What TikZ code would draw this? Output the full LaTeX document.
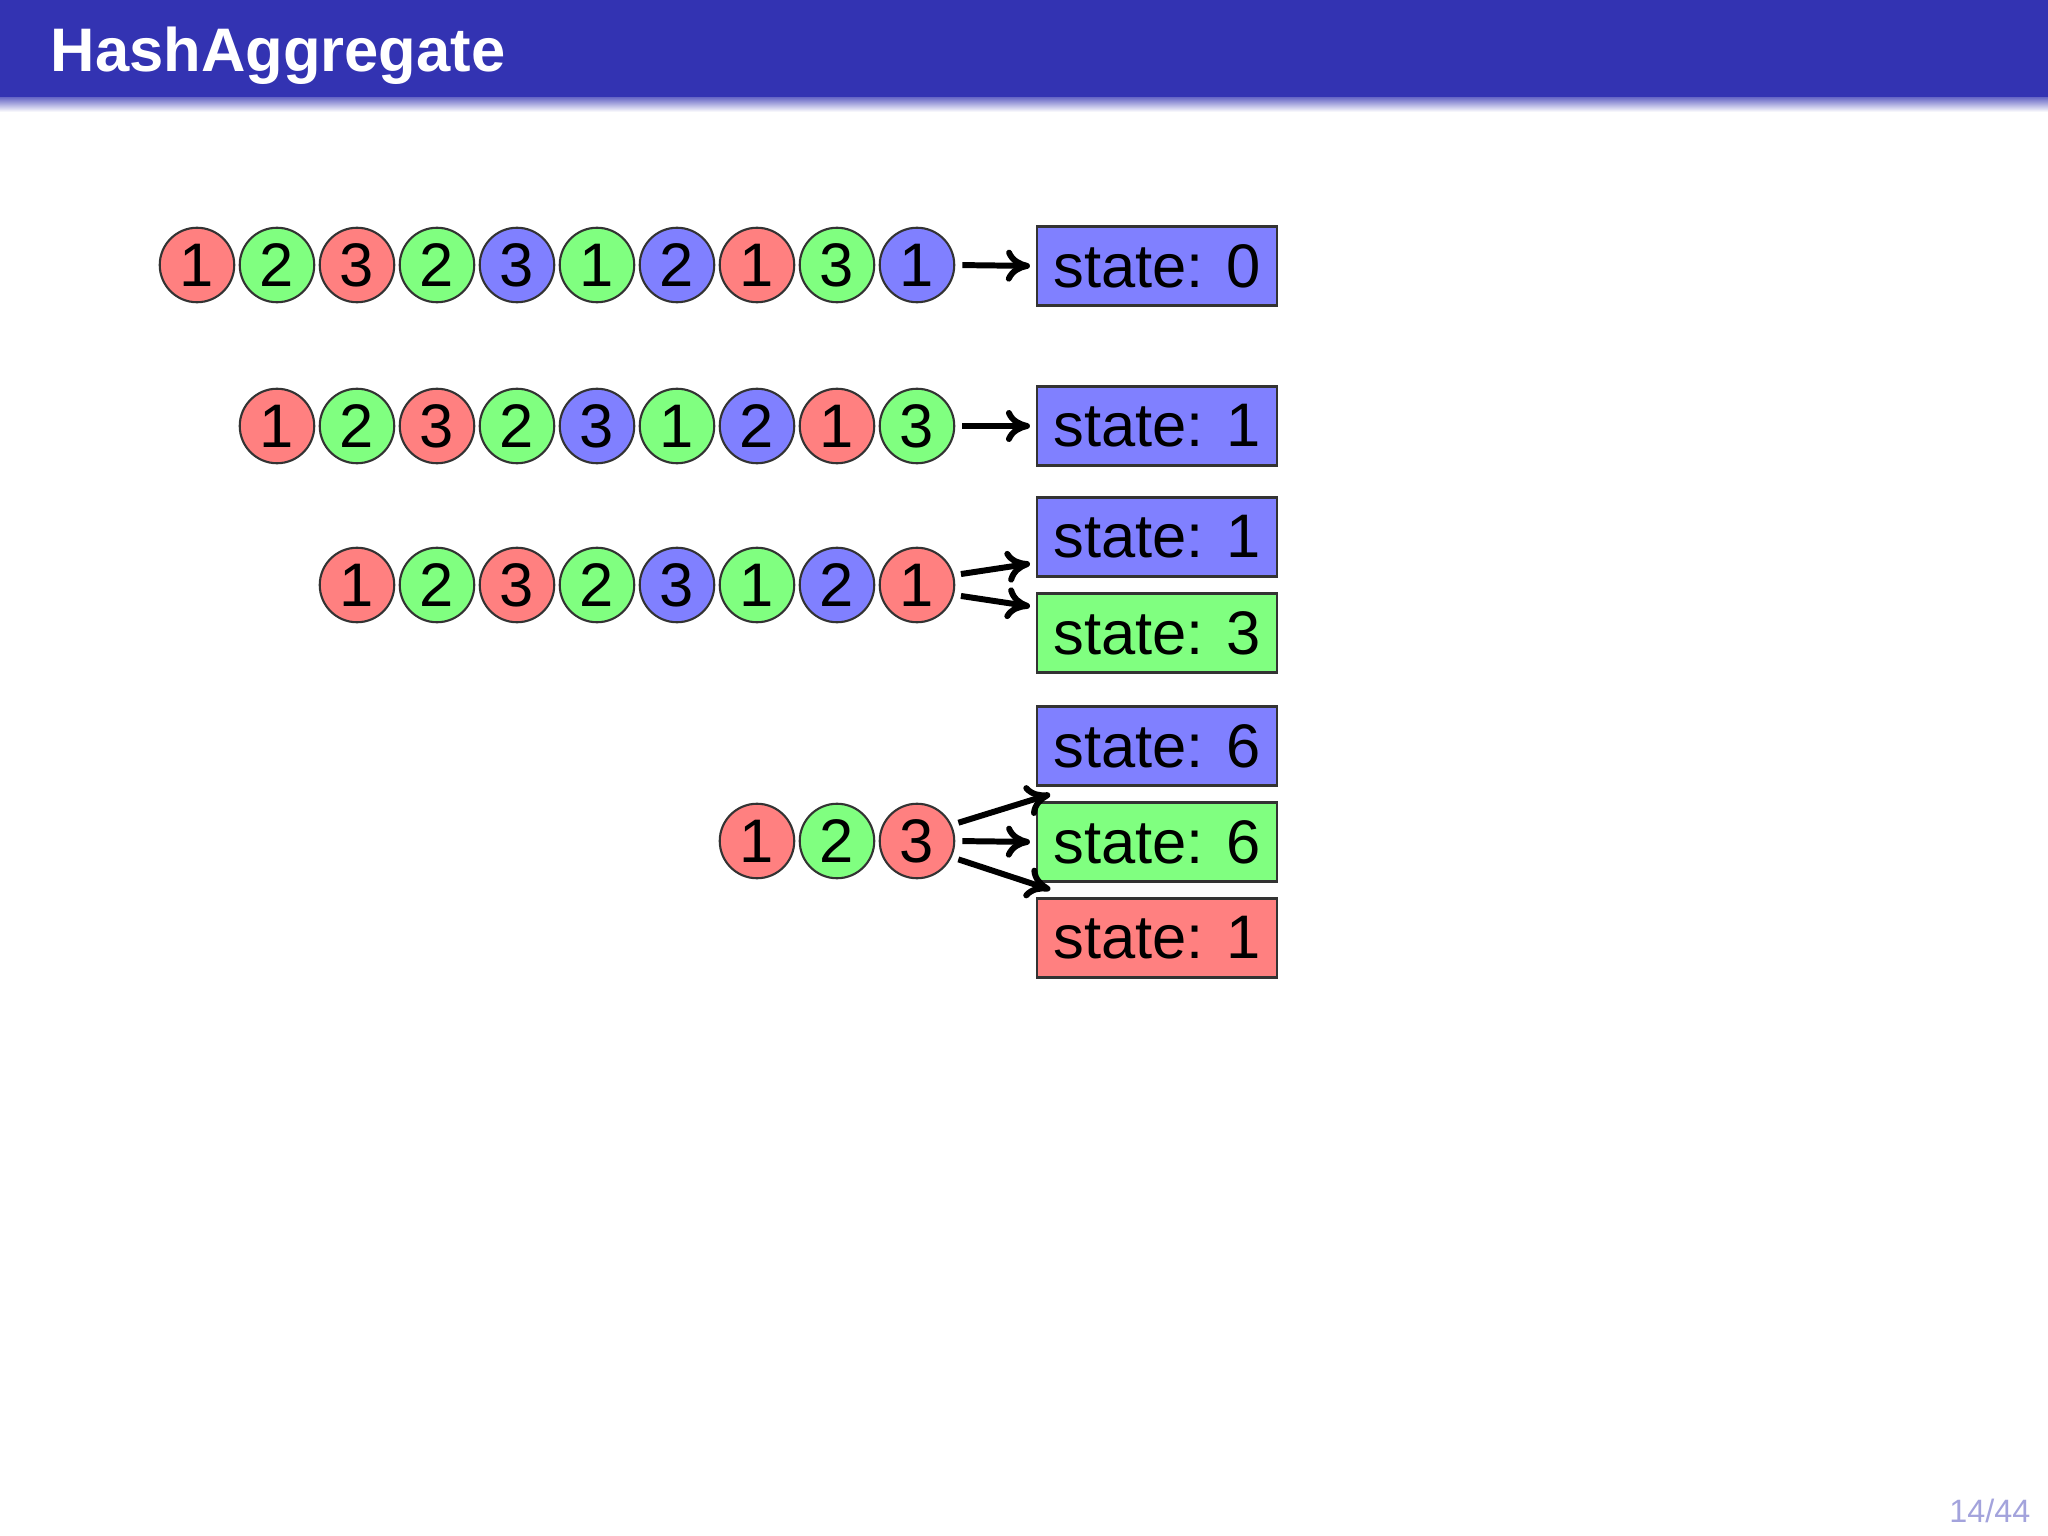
\documentclass[tikz,border=0pt]{standalone}
\usepackage{fontspec}
\setmainfont{Liberation Sans}
\usepackage{tikz}
\usetikzlibrary{positioning,arrows.meta,calc}
\definecolor{hashTitle}{HTML}{3333B2}
\definecolor{hashRed}{HTML}{FF8080}
\definecolor{hashGreen}{HTML}{80FF80}
\definecolor{hashBlue}{HTML}{8080FF}
\definecolor{hashPage}{HTML}{A3A3DC}

\begin{document}
\begin{tikzpicture}[
    ball/.style={circle, draw=black!80, line width=0.6pt, minimum size=0.745cm, inner sep=0pt, font=\fontsize{17.5}{20}\selectfont},
    rball/.style={ball, fill=hashRed},
    gball/.style={ball, fill=hashGreen},
    bball/.style={ball, fill=hashBlue},
    statebox/.style={draw=black!80, line width=0.6pt, minimum width=2.4cm, minimum height=0.79cm, inner sep=0pt, font=\fontsize{17.5}{20}\selectfont},
    arr/.style={-{To[length=0.24cm, width=0.32cm]}, line width=1.7pt, shorten <=0.07cm, shorten >=0.06cm}
]
\useasboundingbox (0,0) rectangle (20.48,-15.36);

% ===== TITLE BAR =====
\fill[hashTitle] (0,0) rectangle (20.48,-0.98);
\shade[top color=hashTitle!70, bottom color=white] (0,-0.98) rectangle (20.48,-1.12);
\node[anchor=base west, inner sep=0pt, text=white, font=\fontsize{17.5}{20}\selectfont\bfseries] (title) at (0.50,-0.72) {HashAggregate};

% ===== ROW 1 (10 tuples) =====
\node[rball] (r1c1) at (1.97,-2.65) {1}; \node[gball] (r1c2) at (2.77,-2.65) {2};
\node[rball] (r1c3) at (3.57,-2.65) {3}; \node[gball] (r1c4) at (4.37,-2.65) {2};
\node[bball] (r1c5) at (5.17,-2.65) {3}; \node[gball] (r1c6) at (5.97,-2.65) {1};
\node[bball] (r1c7) at (6.77,-2.65) {2}; \node[rball] (r1c8) at (7.57,-2.65) {1};
\node[gball] (r1c9) at (8.37,-2.65) {3}; \node[bball] (r1c10) at (9.17,-2.65) {1};
\node[statebox, fill=hashBlue] (s0) at (11.57,-2.66) {state: 0};
\draw[arr] (r1c10.east) -- (s0.west);

% ===== ROW 2 (9 tuples) =====
\node[rball] (r2c1) at (2.77,-4.26) {1}; \node[gball] (r2c2) at (3.57,-4.26) {2};
\node[rball] (r2c3) at (4.37,-4.26) {3}; \node[gball] (r2c4) at (5.17,-4.26) {2};
\node[bball] (r2c5) at (5.97,-4.26) {3}; \node[gball] (r2c6) at (6.77,-4.26) {1};
\node[bball] (r2c7) at (7.57,-4.26) {2}; \node[rball] (r2c8) at (8.37,-4.26) {1};
\node[gball] (r2c9) at (9.17,-4.26) {3};
\node[statebox, fill=hashBlue] (s1) at (11.57,-4.26) {state: 1};
\draw[arr] (r2c9.east) -- (s1.west);

% ===== ROW 3 (8 tuples) =====
\node[rball] (r3c1) at (3.57,-5.85) {1}; \node[gball] (r3c2) at (4.37,-5.85) {2};
\node[rball] (r3c3) at (5.17,-5.85) {3}; \node[gball] (r3c4) at (5.97,-5.85) {2};
\node[bball] (r3c5) at (6.77,-5.85) {3}; \node[gball] (r3c6) at (7.57,-5.85) {1};
\node[bball] (r3c7) at (8.37,-5.85) {2}; \node[rball] (r3c8) at (9.17,-5.85) {1};
\node[statebox, fill=hashBlue] (s2b) at (11.57,-5.37) {state: 1};
\node[statebox, fill=hashGreen] (s2g) at (11.57,-6.33) {state: 3};
\draw[arr] (r3c8.15) -- (s2b.192);
\draw[arr] (r3c8.-15) -- (s2g.168);

% ===== ROW 4 (3 tuples) =====
\node[rball] (r4c1) at (7.57,-8.41) {1}; \node[gball] (r4c2) at (8.37,-8.41) {2};
\node[rball] (r4c3) at (9.17,-8.41) {3};
\node[statebox, fill=hashBlue] (s3b) at (11.57,-7.46) {state: 6};
\node[statebox, fill=hashGreen] (s3g) at (11.57,-8.42) {state: 6};
\node[statebox, fill=hashRed] (s3r) at (11.57,-9.38) {state: 1};
\draw[arr] (r4c3.25) -- ([xshift=0.2cm, yshift=-0.06cm]s3b.south west);
\draw[arr] (r4c3.east) -- (s3g.west);
\draw[arr] (r4c3.-25) -- ([xshift=0.2cm, yshift=0.06cm]s3r.north west);

% ===== PAGE NUMBER =====
\node[anchor=base east, inner sep=0pt, text=hashPage, font=\fontsize{9.2}{11}\selectfont] (page) at (20.31,-15.22) {14/44};

\end{tikzpicture}
\end{document}
